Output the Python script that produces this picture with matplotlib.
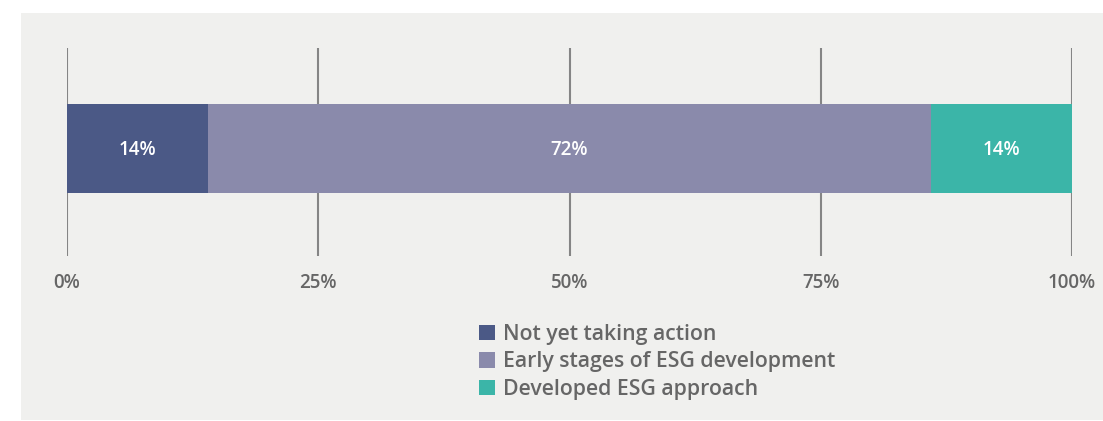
import matplotlib
matplotlib.use("Agg")
import matplotlib.pyplot as plt
from matplotlib.patches import Rectangle, Patch

plt.rcParams['font.family'] = ['Open Sans', 'DejaVu Sans']

categories = ["Not yet taking action", "Early stages of ESG development", "Developed ESG approach"]
values = [14, 72, 14]
colors = ["#4b5986", "#8a8aab", "#3bb5a8"]
tick_values = [0, 25, 50, 75, 100]
tick_labels = ["0%", "25%", "50%", "75%", "100%"]

W, H = 1103, 421
fig = plt.figure(figsize=(W / 100, H / 100), dpi=100)
fig.patch.set_facecolor("white")

# light grey panel behind the chart
fig.patches.append(Rectangle((21 / W, 1 - 420 / H), (W - 21) / W, (420 - 13) / H,
                             transform=fig.transFigure, facecolor="#f0f0ee",
                             edgecolor="none", zorder=-5))

ax = fig.add_axes([67 / W, 1 - 256 / H, (1072 - 67) / W, (256 - 48) / H])
ax.set_facecolor("none")
ax.set_zorder(2)
ax.set_xlim(0, 100)
ax.set_ylim(0, 1)

for t in tick_values:
    ax.axvline(t, color="#858585", lw=1.5, zorder=1)

bar_y, bar_h = 0.517, 0.428
left = 0
for cat, v, c in zip(categories, values, colors):
    ax.barh(bar_y, v, left=left, height=bar_h, color=c, zorder=2)
    ax.text(left + v / 2, bar_y - 0.032, f"{v}%", ha="center", va="baseline",
            color="white", fontsize=13.5, fontweight="semibold", zorder=3)
    left += v

ax.set_xticks(tick_values)
ax.set_xticklabels(tick_labels, fontsize=13.5, color="#666666", fontweight="semibold")
ax.tick_params(axis="x", length=0, pad=12)
ax.set_yticks([])
for s in ax.spines.values():
    s.set_visible(False)

handles = [Patch(facecolor=c, edgecolor="none") for c in colors]
fig.legend(handles, categories, loc="upper left",
           bbox_to_anchor=(479 / W, 1 - 324 / H), frameon=False,
           prop={"size": 15.3, "weight": "semibold"}, labelcolor="#666666",
           handlelength=0.75, handleheight=0.75, handletextpad=0.38,
           labelspacing=0.3, borderpad=0, borderaxespad=0)

fig.savefig("out.png", dpi=100)
